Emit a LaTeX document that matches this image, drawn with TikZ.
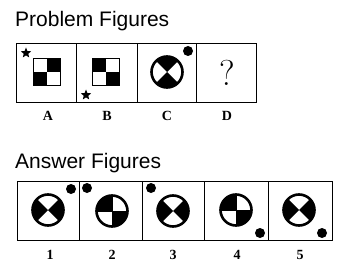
\documentclass[tikz,border=0pt]{standalone}
\usepackage{fontspec}
\setmainfont{Latin Modern Roman}
\newfontfamily\titlefont{Liberation Sans}
\newfontfamily\labfont{Liberation Serif}
\usetikzlibrary{shapes.geometric}
\tikzset{
  cell/.style={draw, line width=1.4pt, minimum width=#1, minimum height=59pt, inner sep=0pt, anchor=north west},
  title/.style={font=\titlefont\fontsize{21}{24}\selectfont, anchor=base west, inner sep=0pt},
  lab/.style={font=\labfont\bfseries\fontsize{14}{16}\selectfont, inner sep=0pt},
  ring/.style={draw, line width=2.6pt},
  dot/.style={circle, fill, inner sep=0pt, minimum size=10pt},
  starmark/.style={star, star points=5, star point ratio=2.3, fill, inner sep=0pt, minimum size=11pt},
}
\newcommand{\xwedges}[3]{% center, start angle, radius
  \fill (#1) -- ++(#2:#3) arc (#2:#2+90:#3) -- cycle;
  \fill (#1) -- ++(#2+180:#3) arc (#2+180:#2+270:#3) -- cycle;
}
\begin{document}
\begin{tikzpicture}[x=1pt,y=-1pt]
\useasboundingbox (0,0) rectangle (345,267);
\fill[white] (0,0) rectangle (345,267);
% Problem figures
\node[title] (pt) at (15,27) {Problem Figures};
\node[cell=60pt] (pa) at (16,43) {};
\node[cell=61pt] (pb) at (76,43) {};
\node[cell=59pt] (pc) at (137,43) {};
\node[cell=60pt] (pd) at (196,43) {};
\node[lab] (la) at (48,116) {A};
\node[lab] (lb) at (107,116) {B};
\node[lab] (lc) at (167,116) {C};
\node[lab] (ld) at (227,116) {D};
% A
\coordinate (sa) at (47,72);
\fill (sa) rectangle ++(13.5,-13.5);
\fill (sa) rectangle ++(-13.5,13.5);
\draw[line width=1pt] (33.5,58.5) rectangle (60.5,85.5);
\node[starmark] (stara) at (26,53) {};
% B
\coordinate (sb) at (106,72);
\fill (sb) rectangle ++(-13.5,-13.5);
\fill (sb) rectangle ++(13.5,13.5);
\draw[line width=1pt] (92.5,58.5) rectangle (119.5,85.5);
\node[starmark] (starb) at (86,95) {};
% C
\coordinate (cc) at (167,72);
\xwedges{cc}{45}{16}
\draw[ring] (cc) circle (15.5);
\node[dot] (dc) at (188,51) {};
% D
\node[font=\fontsize{36}{38}\selectfont, inner sep=0pt] (q) at (227,73) {?};
% Answer figures
\node[title] (at) at (15,168) {Answer Figures};
\node[cell=62pt] (a1) at (17,181) {};
\node[cell=63pt] (a2) at (79,181) {};
\node[cell=62pt] (a3) at (142,181) {};
\node[cell=64pt] (a4) at (204,181) {};
\node[cell=64pt] (a5) at (268,181) {};
\node[lab] (l1) at (50,255) {1};
\node[lab] (l2) at (112,255) {2};
\node[lab] (l3) at (173,255) {3};
\node[lab] (l4) at (237,255) {4};
\node[lab] (l5) at (300,255) {5};
% 1
\coordinate (c1) at (48,210);
\xwedges{c1}{135}{16}
\draw[ring] (c1) circle (15.5);
\node[dot] (d1) at (71,189) {};
% 2
\coordinate (c2) at (112,211);
\xwedges{c2}{0}{16}
\draw[line width=1pt] (c2) ++(-16,0) -- ++(32,0) (c2) ++(0,-16) -- ++(0,32);
\draw[ring] (c2) circle (15.5);
\node[dot] (d2) at (87,188) {};
% 3
\coordinate (c3) at (173,211);
\xwedges{c3}{135}{16}
\draw[ring] (c3) circle (15.5);
\node[dot] (d3) at (151,188) {};
% 4
\coordinate (c4) at (236,210);
\xwedges{c4}{0}{16}
\draw[line width=1pt] (c4) ++(-16,0) -- ++(32,0) (c4) ++(0,-16) -- ++(0,32);
\draw[ring] (c4) circle (15.5);
\node[dot] (d4) at (260,233) {};
% 5
\coordinate (c5) at (299,210);
\xwedges{c5}{135}{16}
\draw[ring] (c5) circle (15.5);
\node[dot] (d5) at (322,233) {};
\end{tikzpicture}
\end{document}
